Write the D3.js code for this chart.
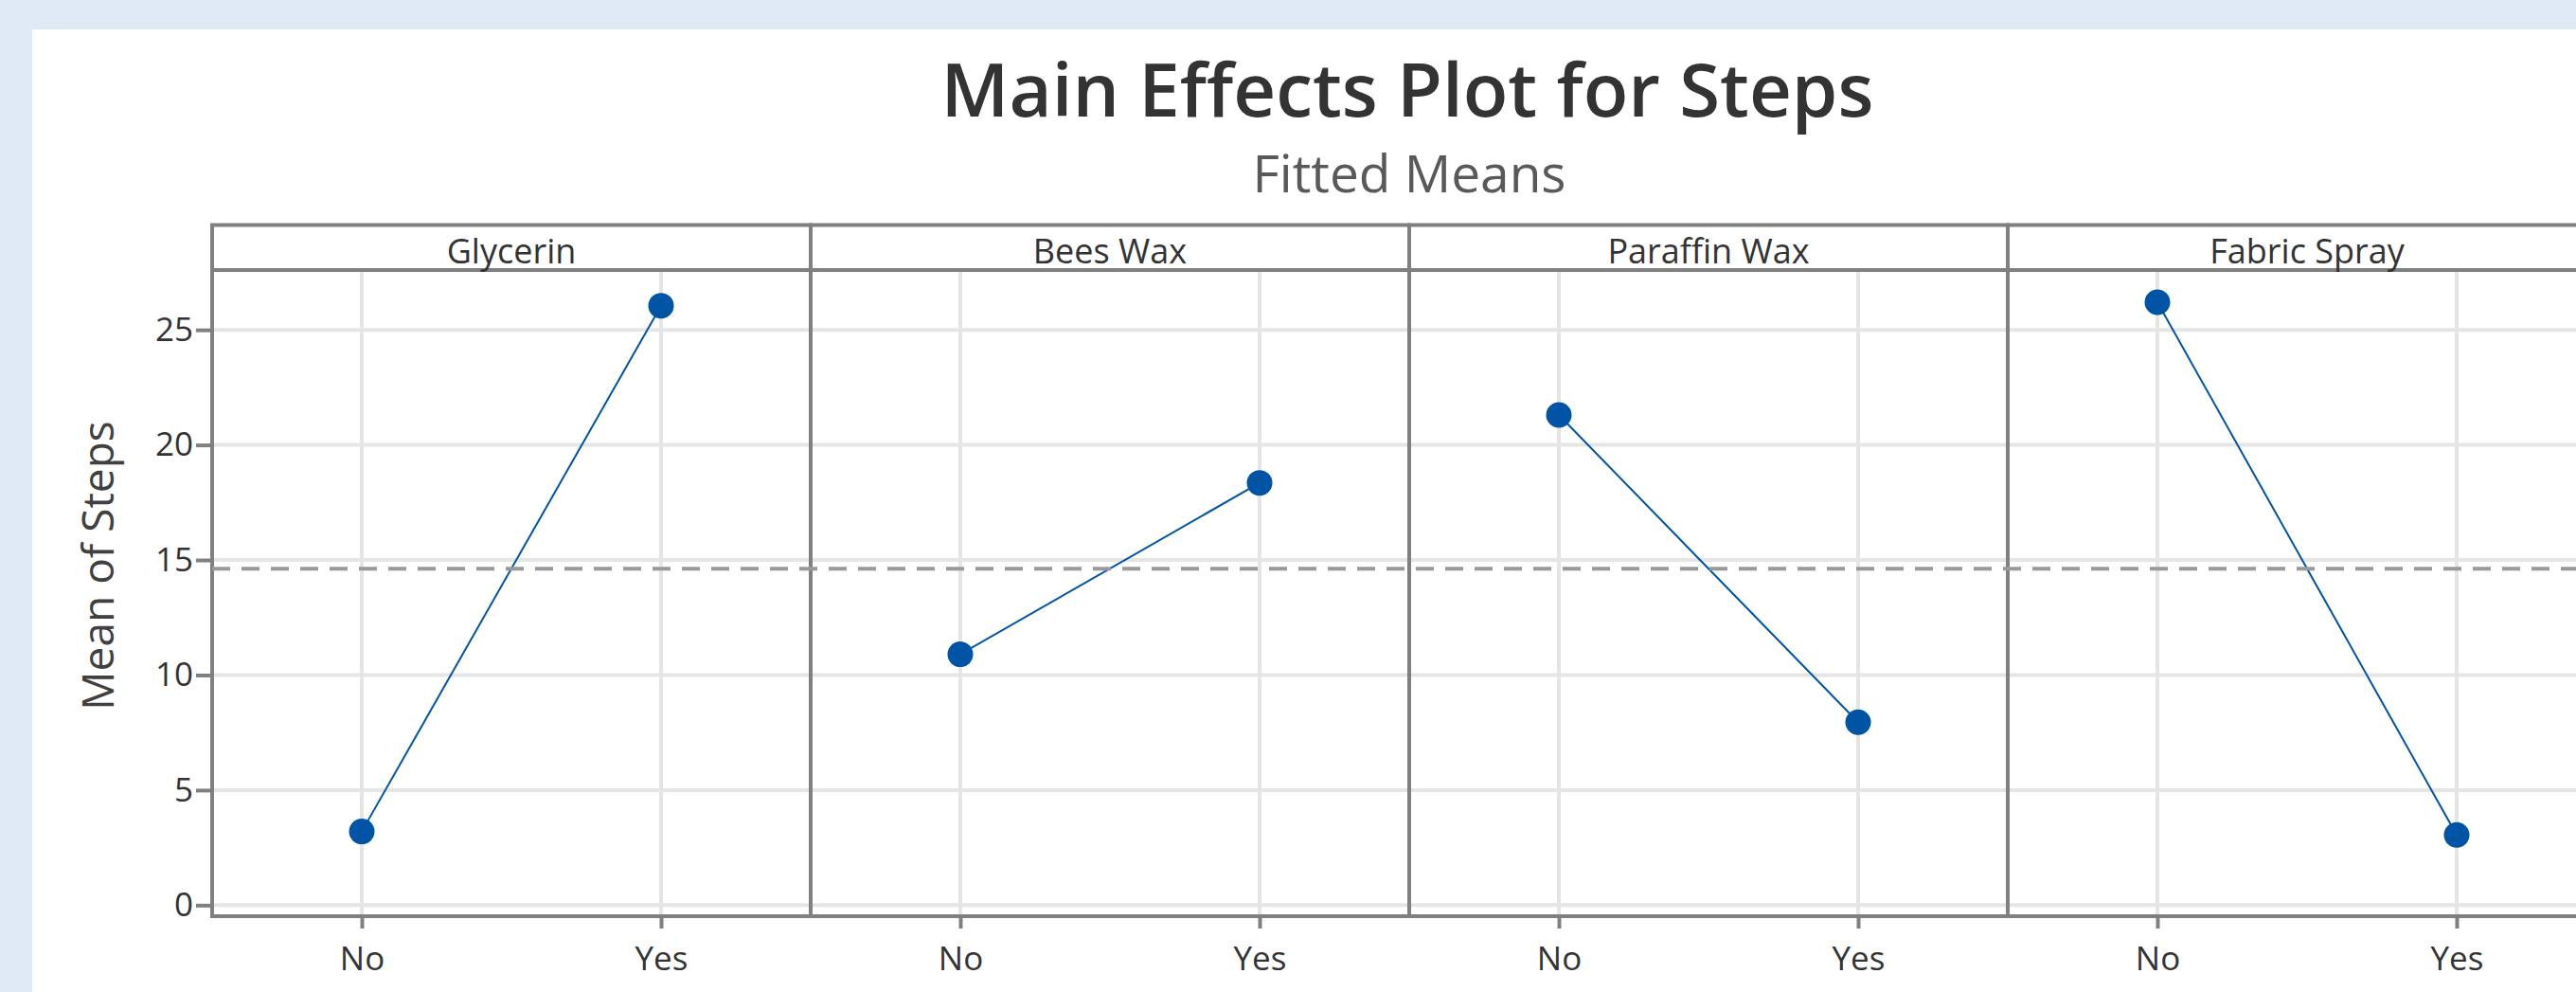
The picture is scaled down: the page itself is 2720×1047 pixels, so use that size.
<!DOCTYPE html>
<html>
<head>
<meta charset="utf-8">
<script src="https://cdn.jsdelivr.net/npm/d3@7"></script>
<style>
  body { margin: 0; background: #dee9f5; }
  svg { display: block; }
  text { font-family: "Open Sans", "Noto Sans", sans-serif; }
</style>
</head>
<body>
<div id="chart"></div>
<script>
// Chart data
var factors = ['Glycerin', 'Bees Wax', 'Paraffin Wax', 'Fabric Spray'];
var levels = ['No', 'Yes'];
var meansNo = [3.2, 10.9, 21.3, 26.2];
var meansYes = [26.05, 18.35, 7.95, 3.05];
var yTicks = [0, 5, 10, 15, 20, 25];

// Plotting options
var options = {
  width: 2720,
  height: 1047,
  plotLeft: 224,
  plotRight: 2752,
  stripTop: 237.5,
  stripBottom: 285,
  plotBottom: 967,
  yDomain: [-0.48, 27.6],
  blue: '#0054a6',
  frame: '#808080',
  grid: '#e5e5e5',
  textColor: '#333'
};

var svg = d3.select('#chart').append('svg')
  .attr('width', options.width)
  .attr('height', options.height);

// White sheet over the blue page
svg.append('rect')
  .attr('x', 34)
  .attr('y', 31)
  .attr('width', options.width)
  .attr('height', options.height)
  .attr('fill', '#fff');

// Titles
svg.append('text')
  .attr('x', 1486)
  .attr('y', 123)
  .attr('text-anchor', 'middle')
  .attr('font-size', 78)
  .attr('font-weight', 600)
  .attr('fill', '#333')
  .text('Main Effects Plot for Steps');

svg.append('text')
  .attr('x', 1488)
  .attr('y', 203)
  .attr('text-anchor', 'middle')
  .attr('font-size', 55)
  .attr('fill', '#595959')
  .text('Fitted Means');

// Scales
var panel = d3.scaleBand()
  .domain(factors)
  .range([options.plotLeft, options.plotRight]);

var x = d3.scalePoint()
  .domain(levels)
  .range([0, panel.bandwidth()])
  .padding(0.5);

var y = d3.scaleLinear()
  .domain(options.yDomain)
  .range([options.plotBottom, options.stripBottom]);

var grandMean = d3.mean(meansNo.concat(meansYes));

// Panels
var panels = svg.selectAll('.panel')
  .data(factors.map(function (f, i) {
    return { factor: f, values: [meansNo[i], meansYes[i]] };
  }))
  .enter().append('g')
  .attr('class', 'panel')
  .attr('transform', function (d) {
    return 'translate(' + panel(d.factor) + ',0)';
  });

// Grid lines
panels.selectAll('.hgrid')
  .data(yTicks)
  .enter().append('line')
  .attr('x1', 0)
  .attr('x2', panel.bandwidth())
  .attr('y1', function (d) { return y(d); })
  .attr('y2', function (d) { return y(d); })
  .attr('stroke', options.grid)
  .attr('stroke-width', 4);

panels.selectAll('.vgrid')
  .data(levels)
  .enter().append('line')
  .attr('x1', function (d) { return x(d); })
  .attr('x2', function (d) { return x(d); })
  .attr('y1', options.stripBottom)
  .attr('y2', options.plotBottom)
  .attr('stroke', options.grid)
  .attr('stroke-width', 4);

// Grand mean reference line
svg.append('line')
  .attr('x1', options.plotLeft)
  .attr('x2', options.plotRight)
  .attr('y1', y(grandMean))
  .attr('y2', y(grandMean))
  .attr('stroke', '#999')
  .attr('stroke-width', 4)
  .attr('stroke-dasharray', '19,12');

// Panel frames and strips
panels.append('rect')
  .attr('x', 0)
  .attr('y', options.stripTop)
  .attr('width', panel.bandwidth())
  .attr('height', options.plotBottom - options.stripTop)
  .attr('fill', 'none')
  .attr('stroke', options.frame)
  .attr('stroke-width', 4);

panels.append('line')
  .attr('x1', 0)
  .attr('x2', panel.bandwidth())
  .attr('y1', options.stripBottom)
  .attr('y2', options.stripBottom)
  .attr('stroke', options.frame)
  .attr('stroke-width', 4);

panels.append('text')
  .attr('x', panel.bandwidth() / 2)
  .attr('y', 278)
  .attr('text-anchor', 'middle')
  .attr('font-size', 36)
  .attr('fill', options.textColor)
  .text(function (d) { return d.factor; });

// X axes
panels.append('g')
  .attr('transform', 'translate(0,' + options.plotBottom + ')')
  .call(d3.axisBottom(x).tickSize(13).tickPadding(19))
  .call(function (g) {
    g.select('.domain').remove();
    g.selectAll('line').attr('stroke', options.frame).attr('stroke-width', 4);
    g.selectAll('text')
      .attr('font-size', 35)
      .attr('font-family', '"Open Sans", sans-serif')
      .attr('fill', options.textColor);
  });

// Effect lines and points
var line = d3.line()
  .x(function (d, i) { return x(levels[i]); })
  .y(function (d) { return y(d); });

panels.append('path')
  .attr('d', function (d) { return line(d.values); })
  .attr('fill', 'none')
  .attr('stroke', options.blue)
  .attr('stroke-width', 2);

panels.selectAll('circle')
  .data(function (d) { return d.values; })
  .enter().append('circle')
  .attr('cx', function (d, i) { return x(levels[i]); })
  .attr('cy', function (d) { return y(d); })
  .attr('r', 13.5)
  .attr('fill', options.blue);

// Y axis
svg.append('g')
  .attr('transform', 'translate(' + options.plotLeft + ',0)')
  .call(d3.axisLeft(y).tickValues(yTicks).tickSize(17).tickPadding(3))
  .call(function (g) {
    g.select('.domain').remove();
    g.selectAll('line').attr('stroke', options.frame).attr('stroke-width', 4);
    g.selectAll('text')
      .attr('font-size', 35)
      .attr('font-family', '"Open Sans", sans-serif')
      .attr('fill', options.textColor);
  });

svg.append('text')
  .attr('transform', 'translate(120,597) rotate(-90)')
  .attr('text-anchor', 'middle')
  .attr('font-size', 46)
  .attr('fill', '#404040')
  .text('Mean of Steps');
</script>
</body>
</html>
